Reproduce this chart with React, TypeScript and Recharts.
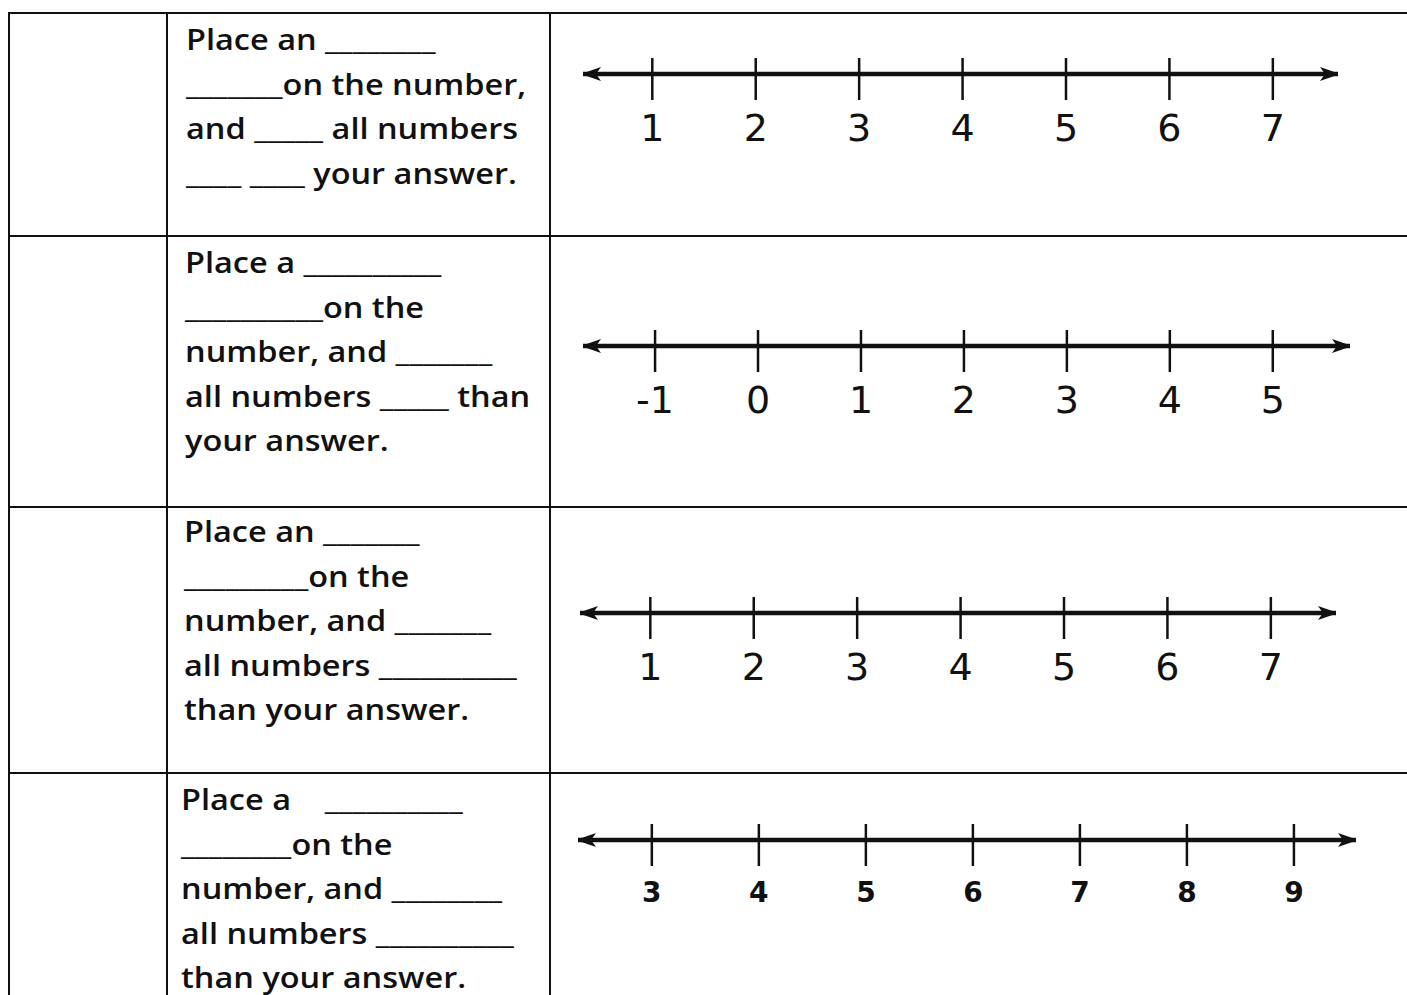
import { LineChart, XAxis, YAxis } from "recharts";

// tick labels of the four number lines
const ROW1_TICKS = [1, 2, 3, 4, 5, 6, 7];
const ROW2_TICKS = [-1, 0, 1, 2, 3, 4, 5];
const ROW3_TICKS = [1, 2, 3, 4, 5, 6, 7];
const ROW4_TICKS = [3, 4, 5, 6, 7, 8, 9];

// fill-in-the-blank prompts, one line per entry
const ROW1_TEXT = [
  "Place an ________",
  "_______on the number,",
  "and _____ all numbers",
  "____ ____ your answer.",
];
const ROW2_TEXT = [
  "Place a __________",
  "__________on the",
  "number, and _______",
  "all numbers _____ than",
  "your answer.",
];
const ROW3_TEXT = [
  "Place an _______",
  "_________on the",
  "number, and _______",
  "all numbers __________",
  "than your answer.",
];
const ROW4_TEXT = [
  "Place a    __________",
  "________on the",
  "number, and ________",
  "all numbers __________",
  "than your answer.",
];

const TEXT_FONT = "'Open Sans', Lato, sans-serif";
const NUM_FONT = "'DejaVu Sans', Verdana, sans-serif";
const INK = "#111";

interface RowLayout {
  ticks: number[];
  text: string[];
  top: number;
  bottom: number;
  textX: number;
  textY: number;
  axisY: number;
  left: number;
  right: number;
  padL: number;
  padR: number;
  bold?: boolean;
}

const ROWS: RowLayout[] = [
  { ticks: ROW1_TICKS, text: ROW1_TEXT, top: 12, bottom: 235, textX: 186, textY: 17, axisY: 74, left: 583, right: 1338, padL: 0.67, padR: 0.63 },
  { ticks: ROW2_TICKS, text: ROW2_TEXT, top: 235, bottom: 506, textX: 185, textY: 240, axisY: 346, left: 583, right: 1350, padL: 0.7, padR: 0.75 },
  { ticks: ROW3_TICKS, text: ROW3_TEXT, top: 506, bottom: 772, textX: 184, textY: 509, axisY: 613, left: 580, right: 1336, padL: 0.68, padR: 0.63 },
  { ticks: ROW4_TICKS, text: ROW4_TEXT, top: 772, bottom: 1100, textX: 181, textY: 777, axisY: 840, left: 578, right: 1356, padL: 0.69, padR: 0.58, bold: true },
];

const CHART_H = 120;
const AXIS_OFFSET = 40; // axis line position inside each chart

function makeTick(bold: boolean) {
  return function NumberTick(props: any) {
    const { x, y, payload } = props;
    return (
      <g>
        <line x1={x} x2={x} y1={y - 16} y2={y + 26} stroke={INK} strokeWidth={2.5} />
        <text
          x={x}
          y={y + (bold ? 52 : 54)}
          textAnchor="middle"
          dominantBaseline="central"
          fontFamily={NUM_FONT}
          fontSize={bold ? 28 : 38}
          fontWeight={bold ? 700 : 400}
          fill={INK}
        >
          {payload.value}
        </text>
      </g>
    );
  };
}

function NumberLine({ row }: { row: RowLayout }) {
  const lo = row.ticks[0];
  const hi = row.ticks[row.ticks.length - 1];
  const data = row.ticks.map((v) => ({ v, y: 0 }));
  const width = row.right - row.left;
  return (
    <div style={{ position: "absolute", left: row.left, top: row.axisY - AXIS_OFFSET }}>
      <LineChart width={width} height={CHART_H} data={data} margin={{ top: 0, right: 0, bottom: 0, left: 0 }}>
        <XAxis
          dataKey="v"
          type="number"
          domain={[lo - row.padL, hi + row.padR]}
          ticks={row.ticks}
          interval={0}
          allowDataOverflow
          height={CHART_H - AXIS_OFFSET}
          tickSize={0}
          tickMargin={0}
          tickLine={false}
          axisLine={{ stroke: INK, strokeWidth: 4.5, markerStart: "url(#arrowL)", markerEnd: "url(#arrowR)" }}
          tick={makeTick(!!row.bold)}
        />
        <YAxis hide domain={[-1, 1]} />
      </LineChart>
    </div>
  );
}

function Row({ row }: { row: RowLayout }) {
  return (
    <>
      <div
        style={{
          position: "absolute",
          left: 8,
          top: row.top,
          width: 1420,
          height: row.bottom - row.top,
          borderTop: `2.5px solid ${INK}`,
          borderLeft: `2.5px solid ${INK}`,
          boxSizing: "border-box",
        }}
      />
      <div
        style={{
          position: "absolute",
          left: 0,
          top: row.top,
          width: 168,
          height: row.bottom - row.top,
          borderRight: `2.5px solid ${INK}`,
          boxSizing: "border-box",
        }}
      />
      <div
        style={{
          position: "absolute",
          left: 0,
          top: row.top,
          width: 551,
          height: row.bottom - row.top,
          borderRight: `2.5px solid ${INK}`,
          boxSizing: "border-box",
        }}
      />
      <div
        style={{
          position: "absolute",
          left: row.textX,
          top: row.textY,
          fontFamily: TEXT_FONT,
          fontSize: 28,
          fontWeight: 600,
          lineHeight: "44.5px",
          color: INK,
          whiteSpace: "pre",
          transform: "scaleX(1.16)",
          transformOrigin: "left top",
        }}
      >
        {row.text.map((t, i) => (
          <div key={i}>{t}</div>
        ))}
      </div>
      <NumberLine row={row} />
    </>
  );
}

export default function App() {
  return (
    <div
      style={{
        position: "fixed",
        left: 0,
        top: 0,
        width: 1407,
        height: 995,
        overflow: "hidden",
        background: "#fff",
      }}
    >
      <svg width={0} height={0} style={{ position: "absolute" }}>
        <defs>
          <marker id="arrowR" viewBox="0 0 20 14" refX={18} refY={7} markerWidth={20} markerHeight={14} markerUnits="userSpaceOnUse" orient="auto">
            <path d="M0,0 L20,7 L0,14 L5,7 Z" fill={INK} />
          </marker>
          <marker id="arrowL" viewBox="0 0 20 14" refX={2} refY={7} markerWidth={20} markerHeight={14} markerUnits="userSpaceOnUse" orient="auto">
            <path d="M20,0 L0,7 L20,14 L15,7 Z" fill={INK} />
          </marker>
        </defs>
      </svg>
      {ROWS.map((row, i) => (
        <Row key={i} row={row} />
      ))}
    </div>
  );
}
